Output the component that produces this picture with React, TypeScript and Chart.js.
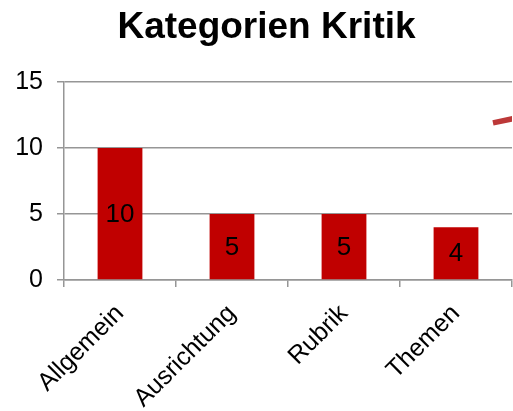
import React, { useEffect, useRef } from "react";
import { Chart, registerables } from "chart.js";

Chart.register(...registerables);

const title = "Kategorien Kritik";
const categories = ["Allgemein", "Ausrichtung", "Rubrik", "Themen"];
const counts = [10, 5, 5, 4];
const yTicks = [0, 5, 10, 15];
// partly visible line series at top right (x in category units on a hidden axis)
const lineX = [3.83, 4.05];
const lineY = [11.9, 12.3];

const FONT = "'Liberation Sans', Arial, sans-serif";
const GRID = "#969696";

const valueLabels = {
  id: "valueLabels",
  afterDatasetsDraw(chart: any) {
    const ctx = chart.ctx;
    const meta = chart.getDatasetMeta(0);
    ctx.save();
    ctx.font = `26px ${FONT}`;
    ctx.fillStyle = "#000000";
    ctx.textAlign = "center";
    ctx.textBaseline = "middle";
    meta.data.forEach((el: any, i: number) => {
      const p = el.getProps(["x", "y", "base"], true);
      ctx.fillText(String(counts[i]), p.x, (p.y + p.base) / 2 + 1);
    });
    ctx.restore();
  },
};

export default function App() {
  const ref = useRef<HTMLCanvasElement | null>(null);
  useEffect(() => {
    if (!ref.current) return;
    Chart.defaults.font.family = FONT;
    const chart = new Chart(ref.current, {
      type: "bar",
      data: {
        labels: categories,
        datasets: [
          {
            type: "bar",
            data: counts,
            backgroundColor: "#C00000",
            borderWidth: 0,
            barPercentage: 0.4,
            categoryPercentage: 1,
            grouped: false,
            order: 2,
          } as any,
          {
            type: "scatter",
            showLine: true,
            xAxisID: "x2",
            yAxisID: "y",
            data: lineX.map((x, i) => ({ x, y: lineY[i] })),
            borderColor: "#BC3838",
            backgroundColor: "#BC3838",
            borderWidth: 5.5,
            pointRadius: 0,
            borderCapStyle: "butt",
            order: 1,
          } as any,
        ],
      },
      options: {
        responsive: false,
        animation: false,
        layout: { padding: 0 },
        plugins: {
          legend: { display: false },
          tooltip: { enabled: false },
          title: {
            display: true,
            text: title,
            color: "#000000",
            font: { size: 37, weight: "bold", family: FONT },
            padding: { top: 6, bottom: 31.6 },
          },
        },
        scales: {
          x: {
            type: "category",
            offset: true,
            grid: {
              offset: true,
              drawOnChartArea: false,
              drawTicks: true,
              tickLength: 7,
              color: GRID,
              lineWidth: 1.5,
            },
            border: { color: GRID, width: 1.5 },
            ticks: {
              color: "#000000",
              font: { size: 25, family: FONT },
              maxRotation: 45,
              minRotation: 45,
              padding: 12,
            },
            afterFit: (s: any) => {
              s.height = 131;
            },
          },
          x2: {
            type: "linear",
            display: false,
            offset: false,
            min: 0,
            max: 4,
            grid: { offset: false },
          },
          y: {
            min: 0,
            max: 15,
            afterBuildTicks: (s: any) => {
              s.ticks = yTicks.map((v) => ({ value: v }));
            },
            grid: {
              color: GRID,
              lineWidth: 1.5,
              tickLength: 7,
              drawTicks: true,
            },
            border: { color: GRID, width: 1.5 },
            ticks: {
              color: "#000000",
              font: { size: 25, family: FONT },
              padding: 14,
            },
            afterFit: (s: any) => {
              s.width = 64;
            },
          },
          yPad: {
            type: "linear",
            position: "right",
            display: true,
            grid: { display: false, drawTicks: false },
            border: { display: false },
            ticks: { display: false },
            afterFit: (s: any) => {
              s.width = 21;
            },
          },
        },
      },
      plugins: [valueLabels],
    });
    return () => chart.destroy();
  }, []);

  return (
    <div
      style={{
        position: "absolute",
        left: 0,
        top: 0,
        width: 513,
        height: 411,
        overflow: "hidden",
        background: "#ffffff",
      }}
    >
      <canvas ref={ref} width={533} height={411} style={{ display: "block" }} />
    </div>
  );
}
